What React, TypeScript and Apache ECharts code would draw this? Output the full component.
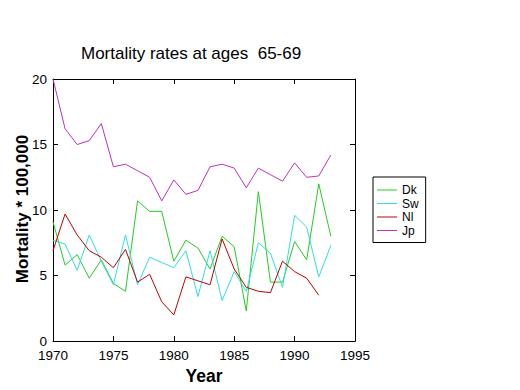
import React, { useEffect, useRef } from "react";
import * as echarts from "echarts";

const years = [1970, 1971, 1972, 1973, 1974, 1975, 1976, 1977, 1978, 1979, 1980, 1981, 1982, 1983, 1984, 1985, 1986, 1987, 1988, 1989, 1990, 1991, 1992, 1993];
const dk = [9.1, 5.8, 6.6, 4.8, 6.2, 4.4, 3.8, 10.7, 9.9, 9.9, 6.1, 7.7, 7.1, 5.5, 8.0, 7.2, 2.3, 11.4, 4.5, 4.5, 7.6, 6.2, 12.0, 8.0];
const sw = [7.7, 7.4, 5.4, 8.1, 6.1, 4.3, 8.1, 4.3, 6.4, 6.0, 5.6, 6.9, 3.4, 6.9, 3.1, 5.3, 3.8, 7.5, 6.7, 4.1, 9.6, 8.7, 4.9, 7.3];
const nl = [6.9, 9.7, 8.1, 6.9, 6.4, 5.6, 7.0, 4.5, 5.1, 3.0, 2.0, 4.9, 4.6, 4.3, 7.8, 5.5, 4.1, 3.8, 3.7, 6.1, 5.3, 4.8, 3.5];
const jp = [20.0, 16.2, 15.0, 15.3, 16.6, 13.3, 13.5, 13.0, 12.5, 10.7, 12.3, 11.2, 11.5, 13.3, 13.5, 13.2, 11.7, 13.2, 12.7, 12.2, 13.6, 12.5, 12.6, 14.2];
const seriesNames = ["Dk", "Sw", "Nl", "Jp"];
const seriesColors = ["#22cc22", "#33dddd", "#c00000", "#bb33bb"];
const xTicks = { min: 1970, max: 1995, interval: 5 };
const yTicks = { min: 0, max: 20, interval: 5 };
const titleText = "Mortality rates at ages  65-69";
const xName = "Year";
const yName = "Mortality * 100,000";

const FONT = "'Liberation Sans', Arial, Helvetica, sans-serif";

export default function App() {
  const ref = useRef<HTMLDivElement>(null);
  useEffect(() => {
    if (!ref.current) return;
    const chart = echarts.init(ref.current, null, { renderer: "svg" });
    const allData = [dk, sw, nl, jp];
    const axisCommon = {
      type: "value" as const,
      axisLine: { show: true, onZero: false, lineStyle: { color: "#000", width: 1 } },
      axisTick: { show: true, inside: true, length: 5, lineStyle: { color: "#000" } },
      splitLine: { show: false },
    };
    chart.setOption({
      animation: false,
      backgroundColor: "#fff",
      textStyle: { fontFamily: FONT },
      title: {
        text: titleText,
        left: 76,
        top: 40,
        textStyle: { fontFamily: FONT, fontSize: 17, fontWeight: "normal", color: "#000" },
      },
      graphic: [
        {
          type: "text",
          x: 22,
          y: 209,
          rotation: Math.PI / 2,
          style: {
            text: yName,
            fontFamily: FONT,
            fontSize: 17,
            fontWeight: "bold",
            fill: "#000",
            textAlign: "center",
            textVerticalAlign: "middle",
          },
        },
      ],
      grid: { left: 53, right: 165, top: 79, bottom: 41, containLabel: false },
      legend: {
        orient: "vertical",
        left: 373,
        top: 177,
        data: seriesNames,
        icon: "rect",
        itemWidth: 20,
        itemHeight: 1,
        itemGap: 1.5,
        itemTextGap: 12,
        padding: [7, 7, 6, 4],
        borderColor: "#000",
        borderWidth: 1,
        backgroundColor: "#fff",
        textStyle: { fontFamily: FONT, fontSize: 12, color: "#000", lineHeight: 12 },
      },
      xAxis: [
        {
          ...axisCommon,
          position: "bottom",
          ...xTicks,
          name: xName,
          nameLocation: "middle",
          nameGap: 23,
          nameTextStyle: { fontFamily: FONT, fontSize: 17.5, fontWeight: "bold", color: "#000" },
          axisLabel: { show: true, margin: 7, fontSize: 13.5, color: "#000", fontFamily: FONT, formatter: (v: number) => String(v) },
        },
        {
          ...axisCommon,
          position: "top",
          ...xTicks,
          axisLabel: { show: false },
        },
      ],
      yAxis: [
        {
          ...axisCommon,
          position: "left",
          ...yTicks,
          axisLabel: { show: true, margin: 6, fontSize: 13.5, color: "#000", fontFamily: FONT, formatter: (v: number) => String(v) },
        },
        {
          ...axisCommon,
          position: "right",
          ...yTicks,
          axisLabel: { show: false },
        },
      ],
      series: seriesNames.map((name, i) => ({
        name,
        type: "line",
        xAxisIndex: 0,
        yAxisIndex: 0,
        showSymbol: false,
        symbol: "none",
        color: seriesColors[i],
        lineStyle: { width: 1, color: seriesColors[i] },
        data: allData[i].map((v, j) => [years[j], v]),
      })),
    });
    return () => chart.dispose();
  }, []);
  return <div ref={ref} style={{ width: 520, height: 390, position: "absolute", left: 0, top: 0 }} />;
}
